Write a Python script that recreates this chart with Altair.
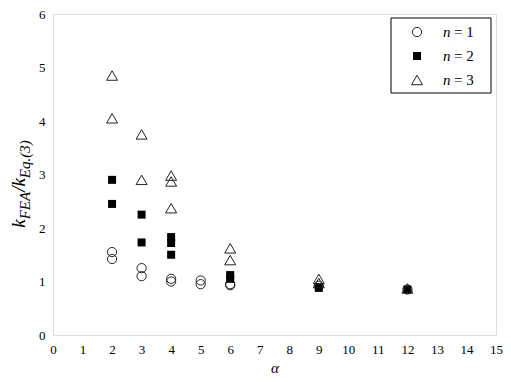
import altair as alt
import pandas as pd

# ---- data ----
series_names = ["n = 1", "n = 2", "n = 3"]
alpha_n1 = [2, 2, 3, 3, 4, 4, 5, 5, 6, 6, 9, 12]
ratio_n1 = [1.55, 1.42, 1.25, 1.10, 1.05, 1.00, 1.02, 0.95, 0.95, 0.93, 0.92, 0.85]
alpha_n2 = [2, 2, 3, 3, 4, 4, 4, 6, 6, 9, 12]
ratio_n2 = [2.90, 2.45, 2.25, 1.73, 1.83, 1.72, 1.50, 1.12, 1.05, 0.88, 0.85]
alpha_n3 = [2, 2, 3, 3, 4, 4, 4, 6, 6, 9, 9, 12]
ratio_n3 = [4.85, 4.05, 3.75, 2.90, 2.98, 2.87, 2.37, 1.62, 1.40, 1.05, 0.97, 0.87]
x_ticks = list(range(0, 16))
y_ticks = list(range(0, 7))

FONT = "Liberation Serif"
W, H = 443, 321

df1 = pd.DataFrame({"alpha": alpha_n1, "ratio": ratio_n1})
df2 = pd.DataFrame({"alpha": alpha_n2, "ratio": ratio_n2})
df3 = pd.DataFrame({"alpha": alpha_n3, "ratio": ratio_n3})

xs = alt.Scale(domain=[0, 15], nice=False, zero=False)
ys = alt.Scale(domain=[0, 6], nice=False, zero=False)

x_enc = alt.X("alpha:Q", scale=xs, axis=alt.Axis(
    values=x_ticks, title="α", titleFontStyle="italic", titleFont=FONT,
    titleFontSize=15, titleFontWeight="normal", titleColor="black", titlePadding=4,
    labelFont=FONT, labelFontSize=13, labelColor="black", labelPadding=8,
    ticks=False, domain=False, grid=False, labelFlush=False, labelOverlap=False))
y_enc = alt.Y("ratio:Q", scale=ys, axis=alt.Axis(
    values=y_ticks, title=None, labelFont=FONT, labelFontSize=13, labelColor="black",
    labelPadding=8, ticks=False, domain=False, grid=False, labelFlush=False))

p1 = alt.Chart(df1).mark_point(shape="circle", size=85, filled=False, opacity=1,
                               stroke="#222222", strokeWidth=1).encode(x=x_enc, y=y_enc)
p2 = alt.Chart(df2).mark_point(shape="square", size=64, filled=True, opacity=1,
                               fill="black", strokeWidth=0).encode(x=x_enc, y=y_enc)
p3 = alt.Chart(df3).mark_point(shape="triangle-up", size=120, filled=False, opacity=1,
                               stroke="#222222", strokeWidth=1).encode(x=x_enc, y=y_enc)

layers = [p1, p2, p3]

# ---- y-axis title with subscripts: k_FEA / k_Eq.(3) ----
main_fs, sub_fs = 19, 15
pieces = [("k", main_fs, 0), ("FEA", sub_fs, 5), ("/k", main_fs, 0), ("Eq.(3)", sub_fs, 5)]
em = {"k": 0.444, "F": 0.611, "E": 0.611, "A": 0.611, "/": 0.278, "q": 0.5,
      ".": 0.25, "(": 0.333, "3": 0.5, ")": 0.333}
widths = [sum(em[c] for c in s) * fs for s, fs, _ in pieces]
total = sum(widths)
y_cursor = 170 + total / 2
base = alt.Chart(pd.DataFrame({"a": [0]}))
for (s, fs, dy), w in zip(pieces, widths):
    layers.append(base.mark_text(text=s, font=FONT, fontSize=fs, fontStyle="italic",
                                 angle=270, align="left", baseline="alphabetic",
                                 dy=dy, color="black")
                  .encode(x=alt.value(-28), y=alt.value(y_cursor)))
    y_cursor -= w

# ---- legend box ----
bx0, bx1, by0, by1 = 338, 438, 4, 79
layers.append(base.mark_rect(fill="white", stroke="black", strokeWidth=1)
              .encode(x=alt.value(bx0), x2=alt.value(bx1), y=alt.value(by0), y2=alt.value(by1)))
leg_shapes = [("circle", 85, False), ("square", 64, True), ("triangle-up", 120, False)]
for i, (name, (shp, sz, fil)) in enumerate(zip(series_names, leg_shapes)):
    yy = by0 + 14 + i * 24
    if fil:
        m = base.mark_point(shape=shp, size=sz, filled=True, fill="black", strokeWidth=0, opacity=1)
    else:
        m = base.mark_point(shape=shp, size=sz, filled=False, stroke="#222222", strokeWidth=1, opacity=1)
    layers.append(m.encode(x=alt.value(bx0 + 26), y=alt.value(yy)))
    layers.append(base.mark_text(text=name.split(" ")[0], font=FONT, fontSize=15,
                                 fontStyle="italic", align="left", baseline="middle",
                                 color="black")
                  .encode(x=alt.value(bx0 + 52), y=alt.value(yy)))
    layers.append(base.mark_text(text=" ".join(name.split(" ")[1:]), font=FONT, fontSize=15,
                                 align="left", baseline="middle", color="black")
                  .encode(x=alt.value(bx0 + 63), y=alt.value(yy)))

chart = alt.layer(*layers).properties(
    width=W, height=H,
    autosize=alt.AutoSizeParams(type="none"),
    padding={"left": 45, "top": 6, "right": 7, "bottom": 40},
).configure_view(stroke="black", strokeWidth=2).configure(
    background="white", font=FONT
).configure_axis(labelFont=FONT, titleFont=FONT)

chart.save("out.html", embed_options={"renderer": "svg", "actions": False})
